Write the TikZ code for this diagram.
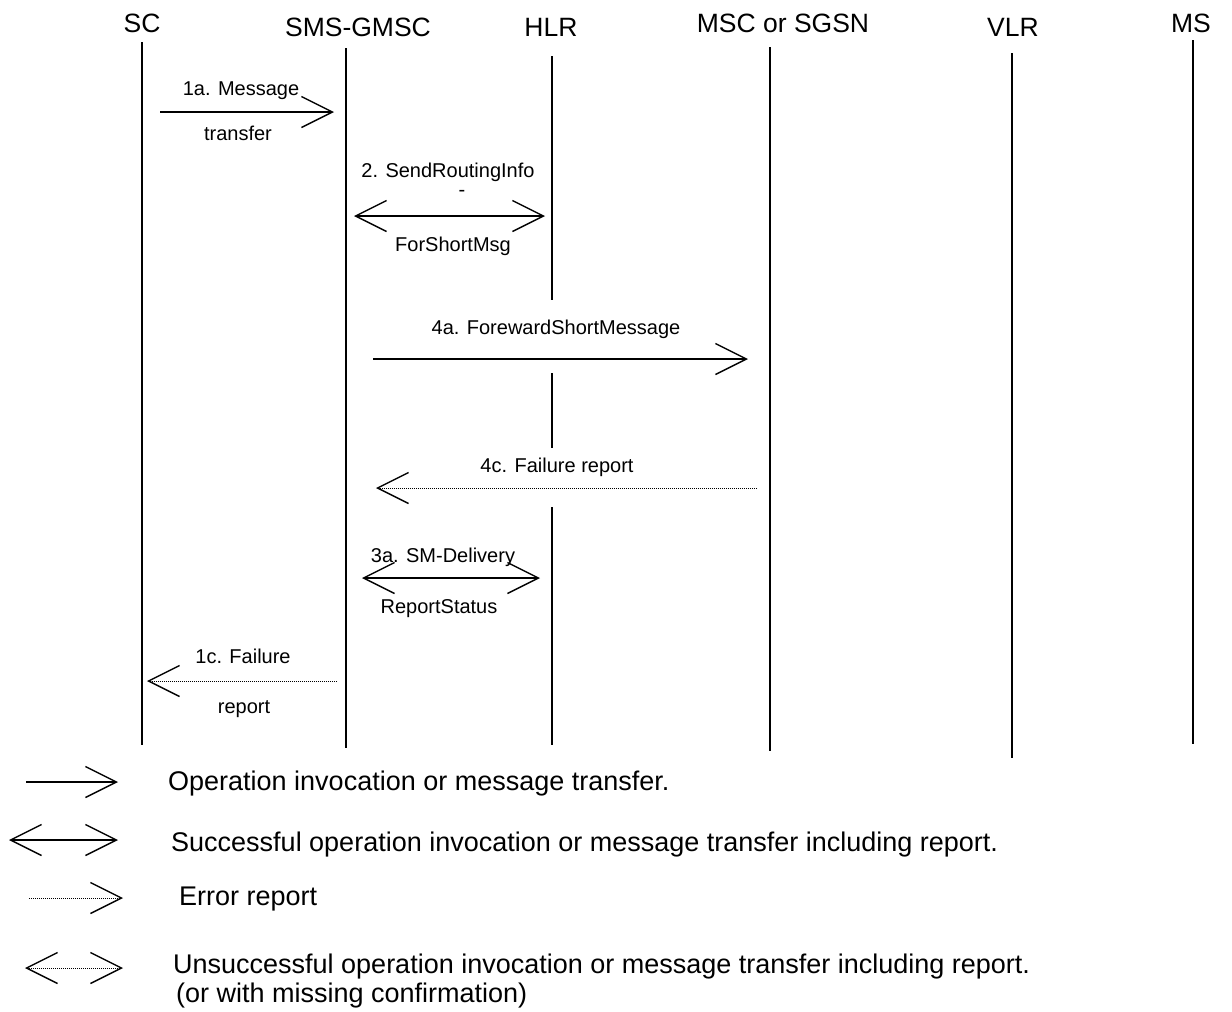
\documentclass[tikz,border=0pt]{standalone}
\usepackage{fontspec}
\setmainfont{Liberation Sans}
\usetikzlibrary{arrows.meta}
\tikzset{
  hdr/.style={font=\fontsize{26.5}{28}\selectfont, anchor=base, inner sep=0pt},
  lbl/.style={font=\fontsize{20}{22}\selectfont, anchor=base, inner sep=0pt},
  leg/.style={font=\fontsize{27}{29}\selectfont, anchor=base west, inner sep=0pt},
  life/.style={line width=1.4pt},
  barb/.tip={Straight Barb[length=31pt,width=31pt,line width=1.4pt]},
  msg/.style={line width=1.4pt, -barb},
  msgboth/.style={line width=1.4pt, barb-barb},
  err/.style={line width=1pt, dash pattern=on 1pt off 1pt, -barb},
  errboth/.style={line width=1pt, dash pattern=on 1pt off 1pt, barb-barb},
}
\begin{document}
\begin{tikzpicture}[x=1pt,y=-1pt]
\useasboundingbox (0,0) rectangle (1232,1012);
% headers
\node[hdr] (hSC)   at (142,32) {SC};
\node[hdr] (hGMSC) at (358,36) {SMS-GMSC};
\node[hdr] (hHLR)  at (551,36) {HLR};
\node[hdr] (hMSC)  at (783,32) {MSC or SGSN};
\node[hdr] (hVLR)  at (1013,36) {VLR};
\node[hdr] (hMS)   at (1191,32) {MS};
% lifelines
\coordinate (scT) at (142,42);   \coordinate (scB) at (142,745);
\coordinate (gmT) at (346,48);   \coordinate (gmB) at (346,748);
\coordinate (hlT) at (552,56);   \coordinate (hl1) at (552,300);
\coordinate (hl2) at (552,373);  \coordinate (hl3) at (552,448);
\coordinate (hl4) at (552,507);  \coordinate (hlB) at (552,745);
\coordinate (msT) at (770,47);   \coordinate (msB) at (770,751);
\coordinate (vlT) at (1012,53);  \coordinate (vlB) at (1012,758);
\coordinate (mT)  at (1193,40);  \coordinate (mB)  at (1193,744);
\draw[life] (scT) -- (scB);
\draw[life] (gmT) -- (gmB);
\draw[life] (hlT) -- (hl1);
\draw[life] (hl2) -- (hl3);
\draw[life] (hl4) -- (hlB);
\draw[life] (msT) -- (msB);
\draw[life] (vlT) -- (vlB);
\draw[life] (mT) -- (mB);
% 1a
\coordinate (m1s) at (160,112); \coordinate (m1e) at (334,112);
\draw[msg] (m1s) -- (m1e);
\node[lbl] (l1a) at (241,95) {1a. Message};
\node[lbl] (l1b) at (238,140) {transfer};
% 2
\coordinate (m2s) at (354,216); \coordinate (m2e) at (545,216);
\draw[msgboth] (m2s) -- (m2e);
\node[lbl] (l2a) at (448,177) {2. SendRoutingInfo};
\node[lbl] (l2b) at (462,196) {-};
\node[lbl] (l2c) at (453,251) {ForShortMsg};
% 4a
\coordinate (m4s) at (373,359); \coordinate (m4e) at (748,359);
\draw[msg] (m4s) -- (m4e);
\node[lbl] (l4a) at (556,334) {4a. ForewardShortMessage};
% 4c
\coordinate (m4cs) at (757,488); \coordinate (m4ce) at (376,488);
\draw[err] (m4cs) -- (m4ce);
\node[lbl] (l4c) at (557,472) {4c. Failure report};
% 3a
\coordinate (m3s) at (362,578); \coordinate (m3e) at (540,578);
\draw[msgboth] (m3s) -- (m3e);
\node[lbl] (l3a) at (443,562) {3a. SM-Delivery};
\node[lbl] (l3b) at (439,613) {ReportStatus};
% 1c
\coordinate (m1cs) at (337,681); \coordinate (m1ce) at (147,681);
\draw[err] (m1cs) -- (m1ce);
\node[lbl] (l1ca) at (243,663) {1c. Failure};
\node[lbl] (l1cb) at (244,713) {report};
% legend
\coordinate (g1s) at (26,782);  \coordinate (g1e) at (118,782);
\draw[msg] (g1s) -- (g1e);
\node[leg] (t1) at (168,790) {Operation invocation or message transfer.};
\coordinate (g2s) at (9,840);   \coordinate (g2e) at (118,840);
\draw[msgboth] (g2s) -- (g2e);
\node[leg] (t2) at (171,851) {Successful operation invocation or message transfer including report.};
\coordinate (g3s) at (29,898);  \coordinate (g3e) at (123,898);
\draw[err] (g3s) -- (g3e);
\node[leg] (t3) at (179,905) {Error report};
\coordinate (g4s) at (25,968);  \coordinate (g4e) at (123,968);
\draw[errboth] (g4s) -- (g4e);
\node[leg] (t4) at (173,973) {Unsuccessful operation invocation or message transfer including report.};
\node[leg] (t5) at (176,1002) {(or with missing confirmation)};
\end{tikzpicture}
\end{document}
